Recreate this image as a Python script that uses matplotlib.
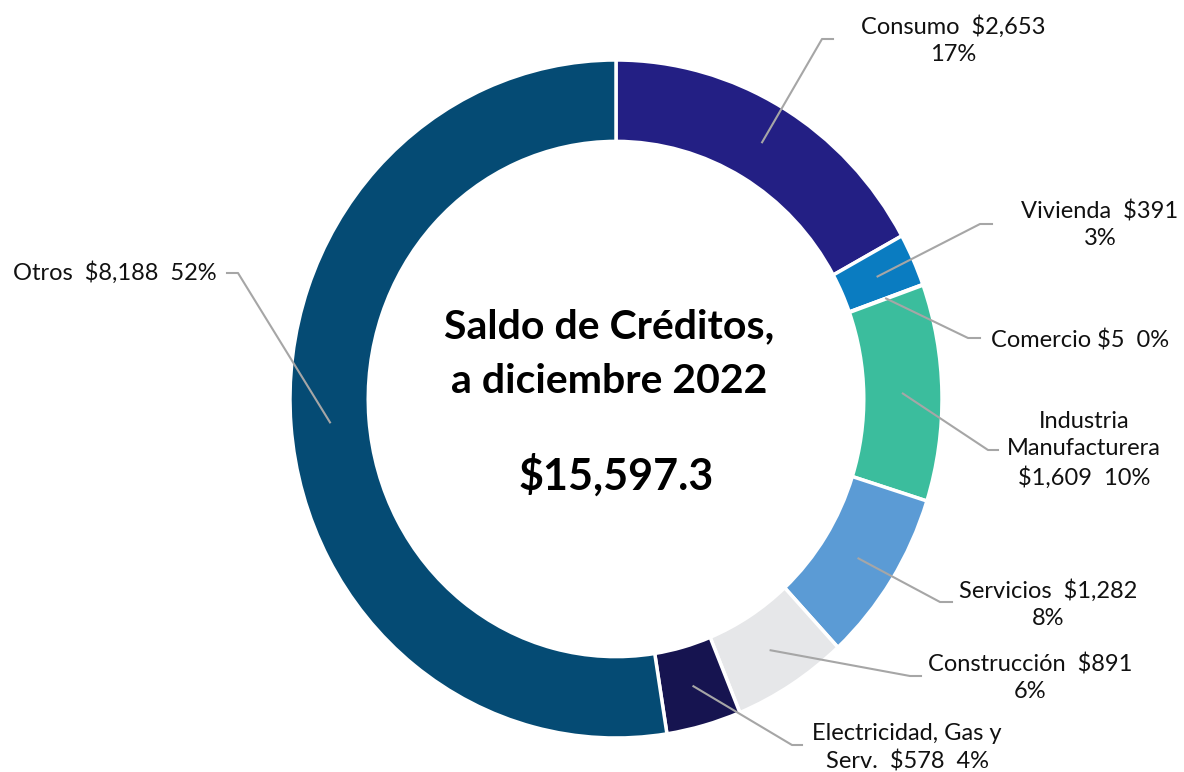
import numpy as np
import matplotlib.pyplot as plt
from matplotlib.lines import Line2D

sectores = ['Consumo', 'Vivienda', 'Comercio', 'Industria\nManufacturera', 'Servicios',
            'Construcción', 'Electricidad, Gas y\nServ.', 'Otros']
saldos = [2653, 391, 5, 1609, 1282, 891, 578, 8188]
etiquetas = ['Consumo  $2,653\n17%', 'Vivienda  $391\n3%', 'Comercio $5  0%',
             'Industria\nManufacturera\n$1,609  10%', 'Servicios  $1,282\n8%',
             'Construcción  $891\n6%', 'Electricidad, Gas y\nServ.  $578  4%',
             'Otros  $8,188  52%']
total_txt = '$15,597.3'
titulo = 'Saldo de Créditos,\na diciembre 2022'

colores = ['#231F84', '#0A7CC1', '#1B5F8C', '#3BBD9D', '#5B9BD5', '#E6E7E9', '#161450', '#054B74']

# layout in pixels (from top-left): text centre, elbow, end of the leader
W, H = 1184, 772
txt_pos = [(953, 40), (1100, 225), (1080, 340), (1084, 450), (1048, 604),
           (1030, 678), (907, 748), (115, 273)]
codo = [(822, 39), (980, 224), (968, 338), (988, 450), (940, 602),
        (910, 676), (792, 745), (238, 273)]
fin = [(833, 39), (992, 224), (980, 338), (998, 450), (952, 602),
       (921, 676), (802, 745), (227, 273)]

fig = plt.figure(figsize=(W / 100, H / 100), dpi=100)
cx, cy, rx, ry = 616, 399, 326, 339
ax = fig.add_axes([(cx - rx) / W, (H - cy - ry) / H, 2 * rx / W, 2 * ry / H])

wedges, _ = ax.pie(saldos, colors=colores, startangle=90, counterclock=False,
                   radius=1, wedgeprops=dict(width=0.24, edgecolor='white', linewidth=2.5))
ax.set_aspect('auto')
ax.set_xlim(-1, 1)
ax.set_ylim(-1, 1)
ax.axis('off')

font = ['Lato', 'DejaVu Sans']
for i, w in enumerate(wedges):
    ang = np.deg2rad((w.theta1 + w.theta2) / 2)
    ax_xy = (0.88 * np.cos(ang), 0.88 * np.sin(ang))
    px, py = ax.transData.transform(ax_xy)
    xs = [px / W, codo[i][0] / W, fin[i][0] / W]
    ys = [py / H, 1 - codo[i][1] / H, 1 - fin[i][1] / H]
    fig.add_artist(Line2D(xs, ys, color='#A6A6A6', lw=1.5, transform=fig.transFigure))
    fig.text(txt_pos[i][0] / W, 1 - txt_pos[i][1] / H, etiquetas[i], ha='center', va='center',
             fontsize=17, family=font, color='#111111', linespacing=1.35)

fig.text(609 / W, 1 - 354 / H, titulo, ha='center', va='center', fontsize=29.5,
         fontweight='bold', family=font, linespacing=1.58)
fig.text(616 / W, 1 - 475 / H, total_txt, ha='center', va='center', fontsize=31,
         fontweight='bold', family=font)

fig.savefig('out.png', dpi=100, facecolor='white')
